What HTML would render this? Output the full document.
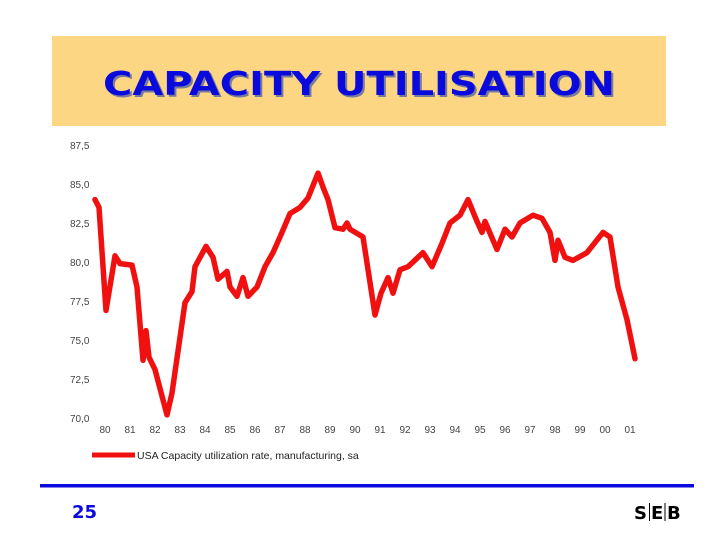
<!DOCTYPE html>
<html><head><meta charset="utf-8"><style>
body{margin:0;background:#fff;width:720px;height:540px;overflow:hidden}
svg{display:block}
</style></head><body>
<svg width="720" height="540" xmlns="http://www.w3.org/2000/svg">
<rect x="52" y="36" width="614" height="90" fill="#FDD684"/>
<text x="105" y="97" font-family="DejaVu Sans, sans-serif" font-weight="bold" font-size="33" fill="#7a7a9a" textLength="512" lengthAdjust="spacingAndGlyphs">CAPACITY UTILISATION</text>
<text x="103" y="95" font-family="DejaVu Sans, sans-serif" font-weight="bold" font-size="33" fill="#0a0adc" textLength="512" lengthAdjust="spacingAndGlyphs">CAPACITY UTILISATION</text>
<g id="yaxis"></g>
<g id="xaxis"></g>
<path id="series" fill="none" stroke="#f01010" stroke-width="5.5" stroke-linejoin="round" stroke-linecap="round"/>
<line x1="92" y1="455" x2="135" y2="455" stroke="#f01010" stroke-width="5"/>
<text x="137" y="459" font-family="Liberation Sans, sans-serif" font-size="10.5" fill="#222">USA Capacity utilization rate, manufacturing, sa</text>
<rect x="40" y="484" width="654" height="3.5" fill="#0a0adc"/>
<text x="72" y="518" font-family="DejaVu Sans, sans-serif" font-weight="bold" font-size="18" fill="#0a0adc">25</text>
<g font-family="DejaVu Sans, sans-serif" font-weight="bold" font-size="18" fill="#000">
<text x="634" y="519">S</text>
<text x="651" y="519">E</text>
<text x="667" y="519">B</text>
<line x1="649.5" y1="503" x2="649.5" y2="521" stroke="#000" stroke-width="1"/>
<line x1="665" y1="503" x2="665" y2="521" stroke="#000" stroke-width="1"/>
</g>
</svg>
<script>
const yTicks=[70,72.5,75,77.5,80,82.5,85,87.5];
const xLabels=["80","81","82","83","84","85","86","87","88","89","90","91","92","93","94","95","96","97","98","99","00","01"];
const years=[1980.08,1980.24,1980.52,1980.88,1981.08,1981.56,1981.76,1982.0,1982.12,1982.24,1982.48,1982.96,1983.16,1983.68,1983.96,1984.08,1984.52,1984.8,1985.0,1985.36,1985.48,1985.76,1986.0,1986.2,1986.56,1986.88,1987.2,1987.48,1987.88,1988.28,1988.6,1989.0,1989.2,1989.4,1989.68,1990.0,1990.16,1990.28,1990.8,1991.28,1991.52,1991.8,1992.0,1992.28,1992.6,1993.2,1993.56,1993.96,1994.28,1994.68,1995.0,1995.36,1995.56,1995.68,1996.16,1996.48,1996.76,1997.08,1997.6,1997.96,1998.28,1998.48,1998.6,1998.88,1999.2,1999.76,2000.4,2000.68,2001.0,2001.36,2001.68];
const values=[84.0,83.5,76.9,80.4,79.9,79.8,78.4,73.7,75.6,73.9,73.1,70.2,71.6,77.4,78.1,79.7,81.0,80.3,78.9,79.4,78.4,77.8,79.0,77.8,78.4,79.7,80.6,81.6,83.1,83.5,84.1,85.7,84.8,84.0,82.2,82.1,82.5,82.1,81.6,76.6,78.0,79.0,78.0,79.5,79.7,80.6,79.7,81.2,82.5,83.0,84.0,82.6,81.9,82.6,80.8,82.1,81.6,82.5,83.0,82.8,81.9,80.1,81.4,80.3,80.1,80.6,81.9,81.6,78.4,76.3,73.8];
const NS="http://www.w3.org/2000/svg";
function yPos(v){return 418-(v-70)*(273/17.5);}
function xPos(yr){return 93+(yr-1980)*25;}
const ya=document.getElementById('yaxis'),xa=document.getElementById('xaxis');
yTicks.forEach(v=>{const t=document.createElementNS(NS,'text');


t.setAttribute('x',70);t.setAttribute('y',yPos(v)+4);t.setAttribute('font-family','Liberation Sans, sans-serif');t.setAttribute('font-size','10');t.setAttribute('fill','#444');
t.textContent=v.toFixed(1).replace('.',',');ya.appendChild(t);});
xLabels.forEach((l,i)=>{const t=document.createElementNS(NS,'text');


t.setAttribute('x',xPos(1980+i)+12);t.setAttribute('y',433);t.setAttribute('text-anchor','middle');t.setAttribute('font-family','Liberation Sans, sans-serif');t.setAttribute('font-size','10');t.setAttribute('fill','#444');
t.textContent=l;xa.appendChild(t);});
let d='';years.forEach((yr,i)=>{d+=(i?'L':'M')+xPos(yr).toFixed(1)+' '+yPos(values[i]).toFixed(1);});
document.getElementById('series').setAttribute('d',d);
</script>
</body></html>
